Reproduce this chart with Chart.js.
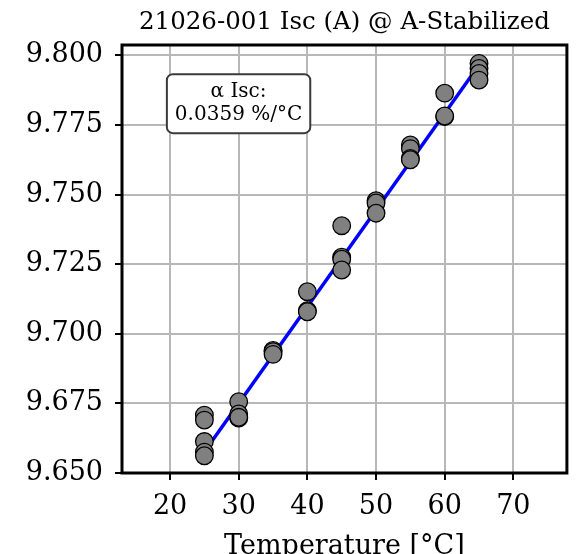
<!DOCTYPE html>
<html><head><meta charset="utf-8">
<script src="https://cdn.jsdelivr.net/npm/chart.js@4/dist/chart.umd.min.js"></script>
<style>html,body{margin:0;padding:0;background:#fff}#wrap{width:577px;height:554px;position:relative}</style>
</head><body><div id="wrap"><canvas id="c"></canvas></div>
<script>
// ---- data ----
const chartTitle = '21026-001 Isc (A) @ A-Stabilized';
const xAxisTitle = 'Temperature [°C]';
const annotationLines = ['α Isc:', '0.0359 %/°C'];

const pointTemps = [25,25,25,25,25, 30,30,30,30, 35,35,35, 40,40,40, 45,45,45,45, 50,50,50, 55,55,55,55, 60,60,60, 65,65,65,65];
const pointIsc   = [9.6708,9.6690,9.6613,9.6575,9.6562,
                    9.6756,9.6712,9.6697,9.6700,
                    9.6940,9.6936,9.6926,
                    9.7151,9.7083,9.7079,
                    9.7388,9.7275,9.7268,9.7229,
                    9.7478,9.7470,9.7433,
                    9.7678,9.7665,9.7630,9.7625,
                    9.7864,9.7780,9.7782,
                    9.7971,9.7953,9.7935,9.7911];
const fitTemps = [25, 65];
const fitIsc   = [9.6576, 9.7965];

const xTicks = [20, 30, 40, 50, 60, 70];
const yTicks = [9.650, 9.675, 9.700, 9.725, 9.750, 9.775, 9.800];
const xRange = [13, 77.8];
const yRange = [9.650, 9.8037];

// ---- chart ----
const FONT = '"DejaVu Serif", serif';

const framePlugin = {
  id: 'frame',
  afterDraw(chart) {
    const {ctx, chartArea: a} = chart;
    ctx.save();
    ctx.font = '24.5px ' + FONT;
    ctx.fillStyle = '#000';
    ctx.textAlign = 'center';
    ctx.textBaseline = 'alphabetic';
    ctx.fillText(chartTitle, (a.left + a.right) / 2, 29);
    ctx.restore();
  },
  afterDatasetsDraw(chart) {
    const {ctx, chartArea: a} = chart;
    ctx.save();
    // annotation box
    ctx.font = '20px ' + FONT;
    const lh = 23;
    const tw = Math.max(...annotationLines.map(t => ctx.measureText(t).width));
    const w = tw + 16, h = lh * annotationLines.length + 13;
    const cx = a.left + 0.262 * (a.right - a.left);
    const cy = a.top + 0.137 * (a.bottom - a.top);
    const x0 = cx - w / 2, y0 = cy - h / 2, r = 6;
    ctx.beginPath();
    ctx.moveTo(x0 + r, y0);
    ctx.arcTo(x0 + w, y0, x0 + w, y0 + h, r);
    ctx.arcTo(x0 + w, y0 + h, x0, y0 + h, r);
    ctx.arcTo(x0, y0 + h, x0, y0, r);
    ctx.arcTo(x0, y0, x0 + w, y0, r);
    ctx.closePath();
    ctx.fillStyle = '#ffffff';
    ctx.fill();
    ctx.strokeStyle = '#3a3a3a';
    ctx.lineWidth = 2;
    ctx.stroke();
    ctx.fillStyle = '#000';
    ctx.textAlign = 'center';
    ctx.textBaseline = 'middle';
    annotationLines.forEach((t, i) => {
      ctx.fillText(t, cx, cy + (i - (annotationLines.length - 1) / 2) * lh);
    });
    // full frame (spines)
    ctx.strokeStyle = '#000';
    ctx.lineWidth = 3;
    ctx.strokeRect(a.left, a.top, a.right - a.left, a.bottom - a.top);
    ctx.restore();
  }
};

new Chart(document.getElementById('c'), {
  type: 'scatter',
  data: {
    datasets: [
      {
        data: pointTemps.map((t, i) => ({x: t, y: pointIsc[i]})),
        backgroundColor: '#808080',
        borderColor: '#000000',
        borderWidth: 1.3,
        pointRadius: 8.8,
        pointHoverRadius: 8.8
      },
      {
        type: 'line',
        data: fitTemps.map((t, i) => ({x: t, y: fitIsc[i]})),
        borderColor: '#0000ff',
        borderWidth: 3.5,
        pointRadius: 0,
        showLine: true,
        fill: false
      }
    ]
  },
  options: {
    responsive: true,
    maintainAspectRatio: false,
    animation: false,
    events: [],
    layout: {padding: {left: 0, right: 2, top: 45, bottom: 0}},
    plugins: {
      legend: {display: false},
      tooltip: {enabled: false},
      title: {display: false}
    },
    scales: {
      x: {
        type: 'linear',
        min: xRange[0], max: xRange[1],
        afterBuildTicks: s => { s.ticks = xTicks.map(v => ({value: v})); },
        afterFit: s => { s.height = 81; },
        ticks: {
          color: '#000', autoSkip: false, maxRotation: 0, padding: 11,
          font: {family: FONT, size: 27},
          callback: v => String(v)
        },
        grid: {color: '#b8b8b8', lineWidth: 2, tickColor: '#000', tickWidth: 2, tickLength: 7},
        border: {display: false},
        title: {
          display: true, text: xAxisTitle, color: '#000',
          font: {family: FONT, size: 27, lineHeight: 1},
          padding: {top: 0, bottom: -6}
        }
      },
      y: {
        type: 'linear',
        min: yRange[0], max: yRange[1],
        afterBuildTicks: s => { s.ticks = yTicks.map(v => ({value: v})); },
        afterFit: s => { s.width = 122; },
        ticks: {
          color: '#000', autoSkip: false, padding: 12,
          font: {family: FONT, size: 27},
          callback: v => Number(v).toFixed(3)
        },
        grid: {color: '#b8b8b8', lineWidth: 2, tickColor: '#000', tickWidth: 2, tickLength: 7},
        border: {display: false}
      }
    }
  },
  plugins: [framePlugin]
});
</script>
</body></html>
